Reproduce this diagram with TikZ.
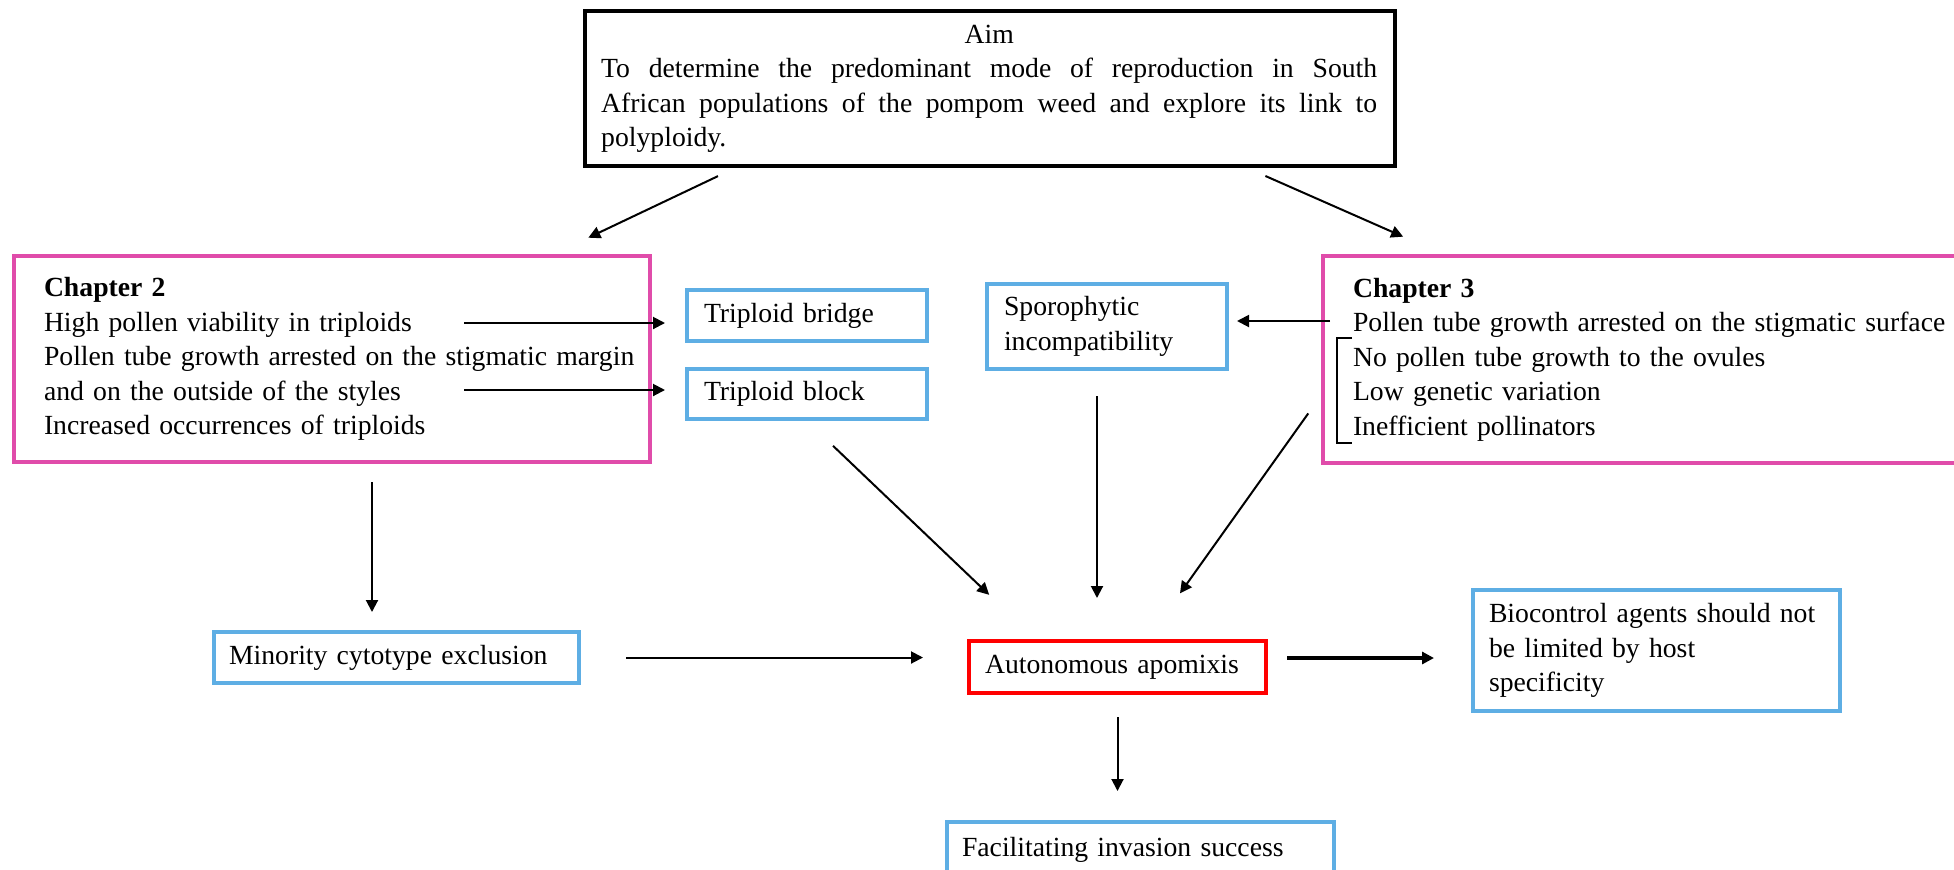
\documentclass[tikz,border=0pt]{standalone}
\usepackage{fontspec}
\setmainfont{Liberation Serif}
\usetikzlibrary{arrows.meta, calc}

\definecolor{chappink}{RGB}{224,76,170}
\definecolor{findblue}{RGB}{94,174,228}
\definecolor{keyred}{RGB}{255,0,0}

% linha justificada da caixa do objetivo
\newcommand{\aimline}[1]{\makebox[388pt][s]{\spaceskip=0.25em plus 1fil\relax #1}}

\begin{document}
\begin{tikzpicture}[
    x=0.5pt, y=-0.5pt,
    box/.style={rectangle, anchor=north west, inner xsep=0pt, inner ysep=0pt,
        align=left, line width=2pt, font=\fontsize{13.85}{17.25}\selectfont},
    lpad/.style={execute at begin node={\leftskip=#1\relax}},
    aimbox/.style={box, draw=black, line width=2.2pt, lpad=8pt},
    chapbox/.style={box, draw=chappink, lpad=15pt},
    findbox/.style={box, draw=findblue, lpad=8.5pt},
    keybox/.style={box, draw=keyred, lpad=8pt},
    arrow/.style={-{Triangle[length=6pt, width=6pt]}, line width=1pt},
    fatarrow/.style={arrow, line width=1.6pt}
]
\useasboundingbox (0,0) rectangle (1954,869);

% Objetivo
\node[aimbox, text width=405pt, minimum height=77.5pt] (aim) at (583,9)
    {\makebox[388pt]{Aim}\\
     \aimline{To determine the predominant mode of reproduction in South}\\
     \aimline{African populations of the pompom weed and explore its link to}\\
     polyploidy.};

% Capitulos
\node[chapbox, text width=318pt, minimum height=103pt] (ch2) at (12,254)
    {\textbf{Chapter 2}\\High pollen viability in triploids\\Pollen tube growth arrested on the stigmatic margin\\and on the outside of the styles\\Increased occurrences of triploids};
\node[chapbox, text width=319.5pt, minimum height=103.5pt] (ch3) at (1321,254)
    {\textbf{Chapter 3}\\Pollen tube growth arrested on the stigmatic surface\\No pollen tube growth to the ovules\\Low genetic variation\\Inefficient pollinators};
\draw[line width=1.2pt] ($(ch3.north west)+(31,84)$) -| ($(ch3.north west)+(16,189)$) -- ($(ch3.north west)+(31,189)$);

% Resultados
\node[findbox, text width=120pt, minimum height=25.5pt] (bridge) at (685,288) {Triploid bridge};
\node[findbox, text width=120pt, minimum height=25pt] (block) at (685,367) {Triploid block};
\node[findbox, text width=120pt, minimum height=42.5pt] (sporo) at (985,282) {Sporophytic\\incompatibility};
\node[findbox, text width=182.5pt, minimum height=25.5pt, lpad=7.5pt] (minority) at (212,630) {Minority cytotype exclusion};
\node[keybox, text width=148.5pt, minimum height=26pt] (apomixis) at (967,639) {Autonomous apomixis};
\node[findbox, text width=183.5pt, minimum height=60.5pt, lpad=8pt] (biocontrol) at (1471,588)
    {Biocontrol agents should not\\be limited by host\\specificity};
\node[findbox, text width=193.5pt, minimum height=28pt, lpad=7.5pt] (invasion) at (945,820) {Facilitating invasion success};

% Setas
\coordinate (hpv) at (464,323);
\coordinate (ptg) at (464,390);
\coordinate (pts) at (1330,321);

\draw[arrow, shorten <=9pt, shorten >=19pt] ([xshift=-128pt]aim.south) -- ([xshift=111pt]ch2.north);
\draw[arrow, shorten <=9.4pt, shorten >=21.5pt] ([xshift=129pt]aim.south) -- ([xshift=-100pt]ch3.north);

\draw[arrow, shorten >=10pt] (hpv) -- (hpv -| bridge.west);
\draw[arrow, shorten >=10pt] (ptg) -- (ptg -| block.west);
\draw[arrow, shorten >=4pt] (pts) -- (pts -| sporo.east);

\draw[arrow, shorten <=9pt, shorten >=9pt] ([xshift=20pt]ch2.south) -- ([xshift=20pt]ch2.south |- minority.north);
\draw[arrow, shorten <=22.5pt, shorten >=22pt] (minority.east) -- (minority.east -| apomixis.west);
\draw[arrow, shorten <=18pt, shorten >=32pt] (block.south) -- ([xshift=-41pt]apomixis.north);
\draw[arrow, shorten <=12.5pt, shorten >=20.5pt] ([xshift=-5pt]sporo.south) -- ([xshift=-5pt]sporo.south |- apomixis.north);
\draw[arrow, shorten <=11pt, shorten >=28pt] ([yshift=-18pt]ch3.west) -- ([xshift=15pt]apomixis.north);

\draw[fatarrow, shorten <=9.5pt, shorten >=18.5pt] ([yshift=4.5pt]apomixis.east) -- ([yshift=4.5pt]apomixis.east -| biocontrol.west);
\draw[arrow, shorten <=11pt, shorten >=14.5pt] (apomixis.south) -- (apomixis.south |- invasion.north);

\end{tikzpicture}
\end{document}
